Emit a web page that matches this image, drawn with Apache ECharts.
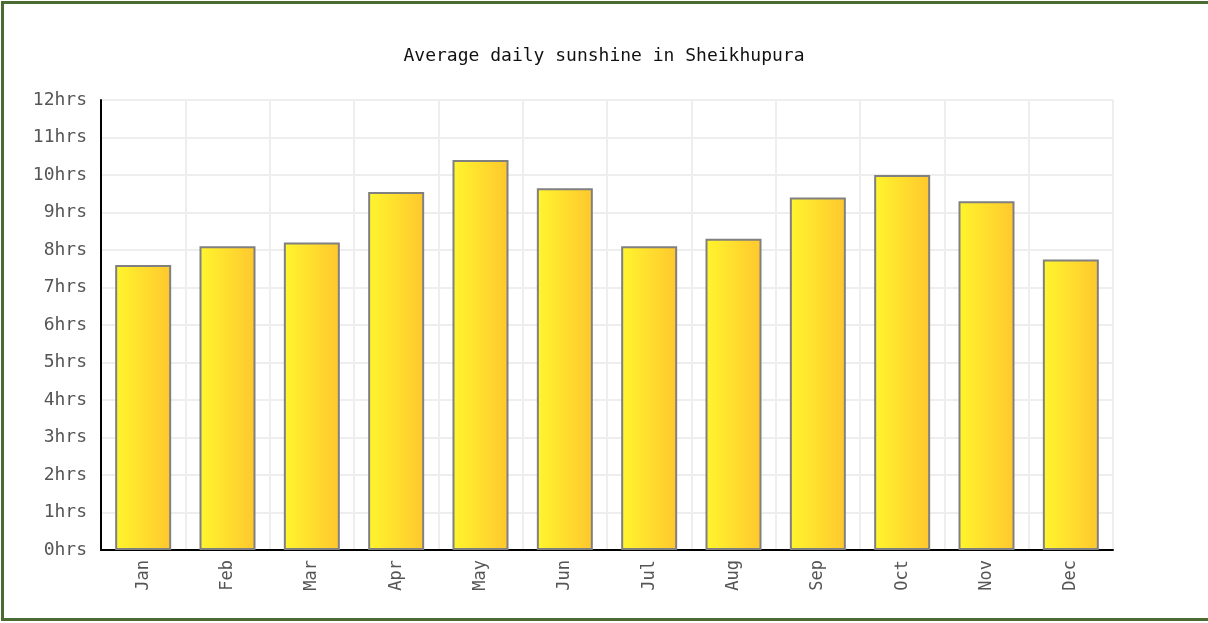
<!DOCTYPE html>
<html>
<head>
<meta charset="utf-8">
<script src="https://cdn.jsdelivr.net/npm/echarts@6/dist/echarts.min.js"></script>
<style>
  html, body { margin: 0; padding: 0; background: #fff; overflow: hidden; }
  #frame { position: absolute; left: 1px; top: 1px; width: 1215px; height: 620px;
           border: 3px solid #4b6b33; box-sizing: border-box; }
  #chart { position: absolute; left: 0; top: 0; width: 1208px; height: 623px; }
</style>
</head>
<body>
<div id="frame"></div>
<div id="chart"></div>
<script>
const months = ['Jan', 'Feb', 'Mar', 'Apr', 'May', 'Jun', 'Jul', 'Aug', 'Sep', 'Oct', 'Nov', 'Dec'];
const sunshineHours = [7.6, 8.1, 8.2, 9.55, 10.4, 9.65, 8.1, 8.3, 9.4, 10.0, 9.3, 7.75];
const yTicks = [0, 1, 2, 3, 4, 5, 6, 7, 8, 9, 10, 11, 12];

const chart = echarts.init(document.getElementById('chart'));
const mono = '"DejaVu Sans Mono", "Liberation Mono", monospace';

chart.setOption({
  animation: false,
  title: {
    text: 'Average daily sunshine in Sheikhupura',
    left: 'center',
    top: 42,
    textStyle: { fontFamily: mono, fontSize: 18, fontWeight: 'normal', color: '#111' }
  },
  grid: { left: 101, right: 95, top: 100, bottom: 73 },
  xAxis: {
    type: 'category',
    data: months,
    axisLine: { lineStyle: { color: '#000', width: 2 } },
    axisTick: { show: false },
    axisLabel: { rotate: 90, margin: 10, color: '#555', fontFamily: mono, fontSize: 17 },
    splitLine: { show: true, lineStyle: { color: '#eeeeee', width: 2 } }
  },
  yAxis: {
    type: 'value',
    min: yTicks[0],
    max: yTicks[yTicks.length - 1],
    interval: 1,
    axisLine: { show: true, lineStyle: { color: '#000', width: 2 } },
    axisTick: { show: false },
    axisLabel: { margin: 14, color: '#555', fontFamily: mono, fontSize: 18, formatter: v => v + 'hrs' },
    splitLine: { lineStyle: { color: '#eeeeee', width: 2 } }
  },
  series: [{
    type: 'bar',
    data: sunshineHours,
    barWidth: 56,
    itemStyle: {
      color: new echarts.graphic.LinearGradient(0, 0, 1, 0, [
        { offset: 0, color: '#fff52e' },
        { offset: 1, color: '#ffc72e' }
      ]),
      borderColor: '#808080',
      borderWidth: 2
    }
  }]
});
</script>
</body>
</html>
